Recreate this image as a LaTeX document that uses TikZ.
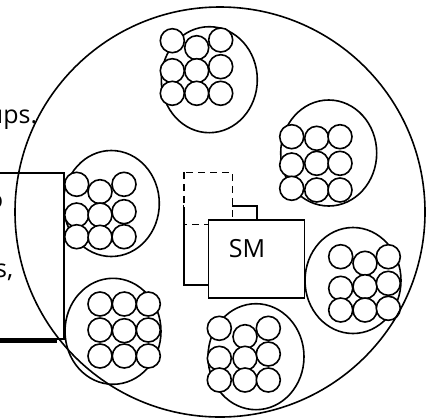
\documentclass[tikz,border=0pt]{standalone}
\usepackage{fontspec}
\setmainfont{Open Sans}
\begin{document}
\begin{tikzpicture}[x=1pt,y=-1pt,line width=1.6pt,
  grp/.style={draw,fill=white,x radius=48pt,y radius=53pt},
  cell/.style={draw,fill=white},
  box/.style={draw,fill=white},
  txt/.style={font=\fontsize{25}{30}\selectfont,inner sep=0pt}]
\useasboundingbox (0,0) rectangle (435,418);
% group circles
\draw[grp] (209.3,79.7) ellipse[];
\draw[grp] (328.7,153) ellipse[];
\draw[grp] (353,280.5) ellipse[];
\draw[grp] (111.3,203.5) ellipse[];
\draw[grp] (113,331.3) ellipse[];
\draw[grp] (256,356.7) ellipse[];
% small circles
\foreach \p in {(172.3,40.7),(196.7,47.7),(220.7,40),(172.3,70.7),(196.7,70.7),(220.7,66.7),(172.3,93.3),(196.7,93.3),(220.7,93.3),
  (291.7,136.7),(316.7,138.3),(340,136.7),(291.7,165),(316.7,163.3),(340,163.3),(291.7,188.3),(316.7,190),(340,190),
  (340.7,256.7),(365,263.3),(388.3,256.7),(340.7,288.3),(365,286.7),(388.3,283.3),(340.7,310),(365,310),(388.3,308.3),
  (76.7,184.3),(100,191.7),(124,184.3),(76.7,215),(100,215),(124,211.7),(76.7,236.7),(100,237.3),(124,236.7),
  (100,304),(124.3,304),(148.3,304),(100,330),(124.3,330.7),(148.3,330),(100,356),(124.3,356),(148.3,356),
  (219.3,328.3),(245,336.7),(268.3,328.3),(219.3,358.3),(245,358.3),(268.3,354),(219.3,380),(245,380),(268.3,380)}
  \draw[cell] \p circle[radius=12pt];
% left box
\draw[box] (-5,173) rectangle (64,339);
\draw[line width=3.5pt] (-5,341) -- (57,341);
% SM stack
\draw[box] (184,205.7) rectangle (256.7,285);
\draw[box,dashed,dash pattern=on 7pt off 5pt] (184,172.3) rectangle (232.3,224.3);
\draw (184,207) -- (184,224.3);
\draw[box] (208.3,220) rectangle (304.3,297.7);
\node[txt] (sm) at (247,249) {SM};
% outer circle
\draw (220,212) circle[radius=205pt];
% text fragments
\node[txt,anchor=base east] (t1) at (38,123) {ups.};
\node[txt,anchor=base east] (t2) at (4,208) {o};
\node[txt,anchor=base east] (t3) at (14,277) {s,};
\end{tikzpicture}
\end{document}
